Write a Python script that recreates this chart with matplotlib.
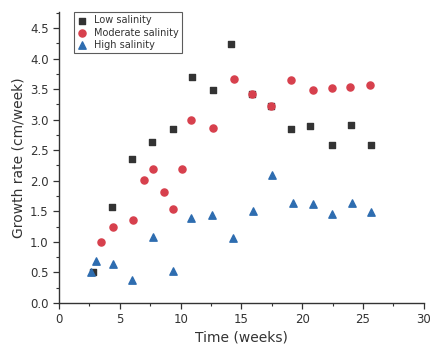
import matplotlib
matplotlib.use('Agg')
import matplotlib.pyplot as plt
from matplotlib.ticker import MultipleLocator

# Low salinity
low_x = [2.83, 4.34, 6.01, 7.66, 9.33, 10.93, 12.63, 14.16, 15.87, 17.46, 19.1, 20.67, 22.45, 24.02, 25.69]
low_y = [0.51, 1.57, 2.35, 2.63, 2.84, 3.70, 3.49, 4.24, 3.42, 3.23, 2.84, 2.89, 2.58, 2.92, 2.58]

# Moderate salinity
mod_x = [3.43, 4.45, 6.04, 7.0, 7.69, 8.59, 9.36, 10.1, 10.87, 12.63, 14.36, 15.84, 17.43, 19.08, 20.86, 22.43, 23.96, 25.61]
mod_y = [1.0, 1.25, 1.36, 2.01, 2.20, 1.82, 1.53, 2.20, 2.99, 2.87, 3.66, 3.42, 3.23, 3.65, 3.48, 3.52, 3.53, 3.56]

# High salinity
high_x = [2.61, 3.05, 4.47, 6.01, 7.74, 9.39, 10.82, 12.57, 14.3, 15.98, 17.54, 19.24, 20.86, 22.43, 24.07, 25.69]
high_y = [0.51, 0.68, 0.64, 0.38, 1.08, 0.52, 1.39, 1.44, 1.07, 1.50, 2.10, 1.63, 1.62, 1.45, 1.64, 1.49]

txt = '#333333'
fig = plt.figure(figsize=(4.41, 3.58), dpi=100)
ax = fig.add_axes([0.134, 0.154, 0.827, 0.812])

ax.scatter(low_x, low_y, marker='s', s=22, color='#333333', label='Low salinity', zorder=3)
ax.scatter(mod_x, mod_y, marker='o', s=26, color='#d7404d', label='Moderate salinity', zorder=3)
ax.scatter(high_x, high_y, marker='^', s=28, color='#2e6db0', label='High salinity', zorder=3)

ax.set_xlim(0, 30)
ax.set_ylim(0, 4.76)
ax.xaxis.set_major_locator(MultipleLocator(5))
ax.xaxis.set_minor_locator(MultipleLocator(2.5))
ax.yaxis.set_major_locator(MultipleLocator(0.5))
ax.yaxis.set_minor_locator(MultipleLocator(0.25))
ax.yaxis.set_major_formatter(matplotlib.ticker.FormatStrFormatter('%.1f'))

ax.spines['top'].set_visible(False)
ax.spines['right'].set_visible(False)
for sp in ('left', 'bottom'):
    ax.spines[sp].set_color(txt)
    ax.spines[sp].set_linewidth(1.0)
ax.tick_params(which='major', direction='out', length=4, width=0.9, colors=txt, labelsize=8.5)
ax.tick_params(which='minor', direction='out', length=2, width=0.8, colors=txt)

ax.set_xlabel('Time (weeks)', fontsize=10, color=txt, labelpad=3)
ax.set_ylabel('Growth rate (cm/week)', fontsize=10, color=txt, labelpad=3)

leg = ax.legend(loc='upper left', bbox_to_anchor=(0.04, 1.0), fontsize=7, frameon=True, fancybox=False,
                edgecolor=txt, handletextpad=0.6, borderpad=0.3, labelspacing=0.25, borderaxespad=0.0,
                handlelength=1.2)
leg.get_frame().set_linewidth(0.8)
for t in leg.get_texts():
    t.set_color(txt)

fig.savefig('out.png', dpi=100)
